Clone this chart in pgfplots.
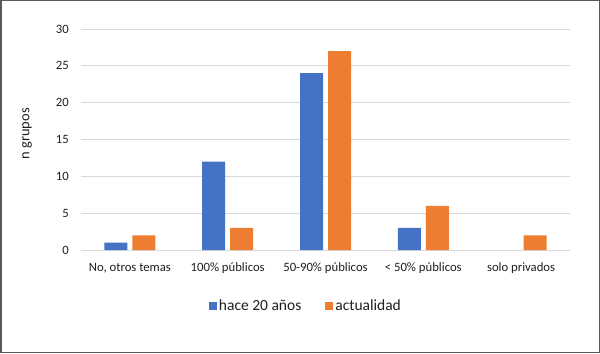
\documentclass[border=0pt]{standalone}
\usepackage{pgfplots}
\pgfplotsset{compat=1.18}
\usepackage{fontspec}
\setmainfont{Carlito}
\definecolor{xblue}{HTML}{4472C4}
\definecolor{xorange}{HTML}{ED7D31}
\definecolor{xgrid}{HTML}{D9D9D9}
\definecolor{xtext}{HTML}{1F1F1F}
\begin{document}
\begin{tikzpicture}[x=1bp,y=1bp]
\useasboundingbox (0,0) rectangle (600,353);
\draw[color=black!65, line width=1.5bp] (0.75,0.75) rectangle (599.25,352.25);
\begin{axis}[
  at={(81bp,103bp)}, anchor=south west,
  scale only axis, width=489bp, height=221bp,
  ybar, bar width=23bp,
  xmin=-0.5, xmax=4.5, ymin=0, ymax=30,
  xtick={0,1,2,3,4},
  xticklabels={{No, otros temas},{100\% públicos},{50-90\% públicos},{< 50\% públicos},{solo privados}},
  ytick={0,5,...,30},
  ymajorgrids, grid style={xgrid, line width=0.9bp},
  axis line style={draw=none},
  major tick length=0pt, tick style={draw=none},
  /pgf/number format/assume math mode=true,
  ticklabel style={font=\fontsize{12.7bp}{14bp}\selectfont, text=xtext},
  yticklabel style={anchor=east, inner sep=0pt, xshift=-12bp},
  xticklabel style={anchor=base, inner sep=0pt, yshift=-21bp},
  ylabel={n grupos},
  every axis y label/.append style={at={(axis description cs:-0.1104,0.525)}, anchor=center, rotate=0},
  ylabel style={font=\fontsize{14.5bp}{16bp}\selectfont, text=xtext},
  legend columns=2,
  legend style={draw=none, fill=none, at={(axis description cs:0.46,-0.253)}, anchor=center,
    font=\fontsize{15.5bp}{17bp}\selectfont, text=xtext,
    /tikz/every even column/.append style={column sep=22bp},
    inner sep=0pt},
  legend image code/.code={\fill[#1] (0bp,-4bp) rectangle (8bp,4bp);},
]
\addplot[fill=xblue, draw=none, bar shift=-14bp] coordinates {(0,1) (1,12) (2,24) (3,3)};
\addplot[fill=xorange, draw=none, bar shift=14bp] coordinates {(0,2) (1,3) (2,27) (3,6) (4,2)};
\legend{hace 20 años, actualidad}
\end{axis}
\end{tikzpicture}
\end{document}
